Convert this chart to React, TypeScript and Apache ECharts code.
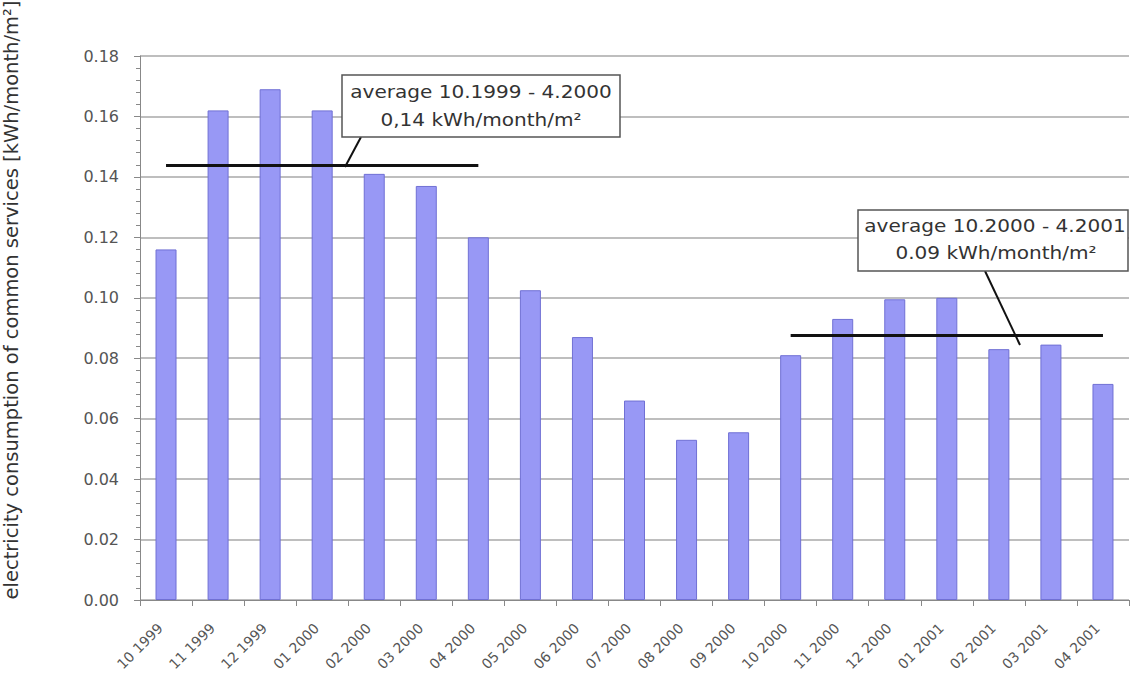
import React, { useEffect, useRef } from "react";
import * as echarts from "echarts";

const categories = [
  "10 1999", "11 1999", "12 1999", "01 2000", "02 2000", "03 2000", "04 2000",
  "05 2000", "06 2000", "07 2000", "08 2000", "09 2000", "10 2000", "11 2000",
  "12 2000", "01 2001", "02 2001", "03 2001", "04 2001",
];
const consumption = [
  0.116, 0.162, 0.169, 0.162, 0.141, 0.137, 0.120,
  0.1025, 0.087, 0.066, 0.053, 0.0555, 0.081, 0.093,
  0.0995, 0.100, 0.083, 0.0845, 0.0715,
];
const average1 = { from: "10 1999", to: "04 2000", value: 0.1437 };
const average2 = { from: "10 2000", to: "04 2001", value: 0.0875 };
const avg1Lines = ["average 10.1999 - 4.2000", "0,14 kWh/month/m²"];
const avg2Lines = ["average 10.2000 - 4.2001", "0.09 kWh/month/m²"];
const yTitle = "electricity consumption of common services [kWh/month/m²]";
const yMin = 0;
const yMax = 0.18;
const yStep = 0.02;

const FONT = "DejaVu Sans";

export default function App() {
  const ref = useRef<HTMLDivElement>(null);
  useEffect(() => {
    if (!ref.current) return;
    const chart = echarts.init(ref.current, undefined, { renderer: "svg" });
    const annText = (x: number, y: number, text: string) => ({
      type: "text",
      x,
      y,
      scaleX: 1.18,
      style: {
        text,
        textAlign: "center",
        textVerticalAlign: "middle",
        fontFamily: FONT,
        fontSize: 17,
        fill: "#333",
      },
      z: 20,
    });
    chart.setOption({
      animation: false,
      backgroundColor: "#ffffff",
      grid: {
        left: 140,
        right: 1,
        top: 56,
        bottom: 78,
        containLabel: false,
        outerBoundsMode: "none",
      },
      xAxis: {
        type: "category",
        data: categories,
        boundaryGap: true,
        axisLine: { lineStyle: { color: "#888", width: 1 } },
        axisTick: { show: true, length: 6, alignWithLabel: false, lineStyle: { color: "#888" } },
        axisLabel: {
          rotate: 45,
          margin: 20,
          padding: [0, 8, 0, 0],
          fontFamily: FONT,
          fontSize: 14,
          color: "#555",
          interval: 0,
        },
        splitLine: { show: false },
      },
      yAxis: {
        type: "value",
        min: yMin,
        max: yMax,
        interval: yStep,
        axisLine: { show: true, lineStyle: { color: "#888", width: 1 } },
        axisTick: { show: true, length: 6, lineStyle: { color: "#888" } },
        minorTick: { show: true, splitNumber: 5, length: 4, lineStyle: { color: "#888" } },
        axisLabel: {
          margin: 21,
          fontFamily: FONT,
          fontSize: 16,
          color: "#555",
          formatter: (v: number) => v.toFixed(2),
        },
        splitLine: { show: true, lineStyle: { color: "#a8a8a8", width: 1.5 } },
      },
      series: [
        {
          type: "bar",
          data: consumption,
          barWidth: 21,
          itemStyle: { color: "#9898f5", borderColor: "#7070d4", borderWidth: 1 },
          markLine: {
            symbol: "none",
            silent: true,
            label: { show: false },
            lineStyle: { color: "#111", width: 2.8, type: "solid" },
            data: [
              [
                { coord: [average1.from, average1.value] },
                { coord: [average1.to, average1.value] },
              ],
              [
                { coord: [average2.from, average2.value] },
                { coord: [average2.to, average2.value] },
              ],
            ],
          },
        },
      ],
      graphic: [
        {
          type: "text",
          x: 11,
          y: 300,
          rotation: Math.PI / 2,
          style: {
            text: yTitle,
            textAlign: "center",
            textVerticalAlign: "middle",
            fontFamily: FONT,
            fontSize: 19.5,
            fill: "#333",
          },
        },
        {
          type: "line",
          shape: { x1: 361, y1: 137, x2: 345, y2: 167 },
          style: { stroke: "#111", lineWidth: 2 },
          z: 15,
        },
        {
          type: "line",
          shape: { x1: 985, y1: 271, x2: 1020, y2: 345 },
          style: { stroke: "#111", lineWidth: 2 },
          z: 15,
        },
        {
          type: "rect",
          shape: { x: 342, y: 75, width: 278, height: 62 },
          style: { fill: "#fff", stroke: "#555", lineWidth: 1.5 },
          z: 16,
        },
        {
          type: "rect",
          shape: { x: 858, y: 210, width: 270, height: 61 },
          style: { fill: "#fff", stroke: "#555", lineWidth: 1.5 },
          z: 16,
        },
        annText(481, 92, avg1Lines[0]),
        annText(481, 120, avg1Lines[1]),
        annText(995, 226, avg2Lines[0]),
        annText(996, 253, avg2Lines[1]),
      ],
    });
    return () => chart.dispose();
  }, []);
  return (
    <div
      ref={ref}
      style={{ position: "fixed", left: 0, top: 0, width: 1130, height: 678, background: "#fff" }}
    />
  );
}
